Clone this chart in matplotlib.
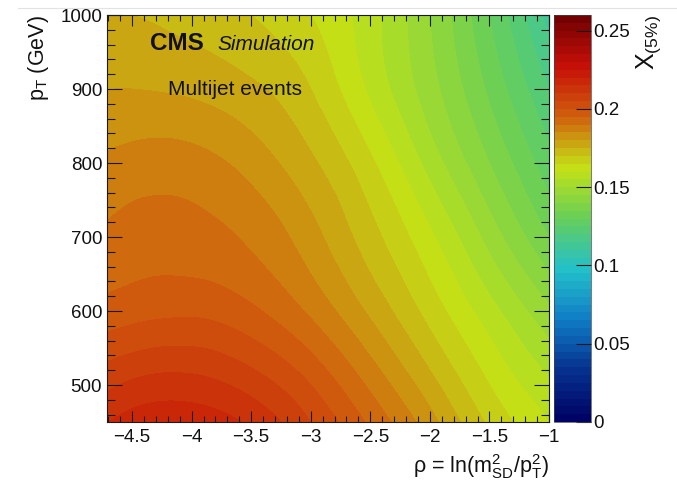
import numpy as np
import matplotlib
matplotlib.use("Agg")
import matplotlib.pyplot as plt
import matplotlib.tri as mtri
from matplotlib.colors import LinearSegmentedColormap
from matplotlib.ticker import MultipleLocator
from matplotlib.lines import Line2D

plt.rcParams["font.family"] = ["Liberation Sans", "DejaVu Sans"]
plt.rcParams["mathtext.fontset"] = "custom"
plt.rcParams["mathtext.rm"] = "Liberation Sans"
plt.rcParams["mathtext.it"] = "Liberation Sans:italic"
plt.rcParams["mathtext.bf"] = "Liberation Sans:bold"
plt.rcParams["mathtext.sf"] = "Liberation Sans"

# grid of the smoothed X(5%) map: rho columns, pT rows
rho = [-4.7, -4.5, -4.0, -3.5, -3.0, -2.5, -2.0, -1.5, -1.0]
pt = [450, 500, 600, 700, 800, 900, 1000]

x5_pt450 = [0.215, 0.217, 0.218, 0.214, 0.205, 0.194, 0.182, 0.169, 0.160]
x5_pt500 = [0.209, 0.211, 0.212, 0.208, 0.200, 0.189, 0.177, 0.165, 0.156]
x5_pt600 = [0.197, 0.198, 0.199, 0.196, 0.189, 0.179, 0.168, 0.157, 0.146]
x5_pt700 = [0.191, 0.192, 0.192, 0.189, 0.182, 0.172, 0.161, 0.148, 0.135]
x5_pt800 = [0.186, 0.187, 0.187, 0.183, 0.176, 0.166, 0.153, 0.140, 0.127]
x5_pt900 = [0.180, 0.180, 0.179, 0.176, 0.170, 0.159, 0.147, 0.134, 0.120]
x5_pt1000 = [0.175, 0.175, 0.173, 0.170, 0.165, 0.157, 0.145, 0.130, 0.113]

x_ticks = [-4.5, -4.0, -3.5, -3.0, -2.5, -2.0, -1.5, -1.0]
x_ticklabels = ["\u22124.5", "\u22124", "\u22123.5", "\u22123", "\u22122.5", "\u22122", "\u22121.5", "\u22121"]
y_ticks = [500, 600, 700, 800, 900, 1000]
z_ticks = [0, 0.05, 0.1, 0.15, 0.2, 0.25]
z_ticklabels = ["0", "0.05", "0.1", "0.15", "0.2", "0.25"]

z = np.array([x5_pt450, x5_pt500, x5_pt600, x5_pt700, x5_pt800, x5_pt900, x5_pt1000])

# ROOT-style rainbow palette
stops = [0.0, 0.125, 0.25, 0.375, 0.5, 0.625, 0.75, 0.875, 1.0]
red = [0, 5, 15, 35, 102, 196, 208, 199, 110]
green = [0, 48, 124, 192, 206, 226, 97, 16, 0]
blue = [99, 142, 198, 201, 90, 22, 13, 8, 2]
cmap = LinearSegmentedColormap.from_list(
    "rainbow_root",
    [(s, (r / 255, g / 255, b / 255)) for s, r, g, b in zip(stops, red, green, blue)],
)

zmin, zmax = 0.0, 0.26
levels = np.linspace(zmin, zmax, 53)

W, H = 677, 482
fig = plt.figure(figsize=(W / 100, H / 100), dpi=100)

def fx(px):
    return px / W

def fy(py):
    return 1 - py / H

left, right, top, bottom = 107, 549, 15, 422
ax = fig.add_axes([fx(left), fy(bottom), fx(right - left), (bottom - top) / H])
cax = fig.add_axes([fx(554), fy(bottom), fx(591 - 554), (bottom - top) / H])

# smooth surface: cubic refinement of the grid, done with pT rescaled so
# both directions have comparable extent, then mapped back to GeV
pt_scale = 150.0
RR, PP = np.meshgrid(rho, pt)
tri_n = mtri.Triangulation(RR.ravel(), PP.ravel() / pt_scale)
interp = mtri.CubicTriInterpolator(tri_n, z.ravel(), kind="min_E")
tri_fine_n, z_fine = mtri.UniformTriRefiner(tri_n).refine_field(
    z.ravel(), triinterpolator=interp, subdiv=4)
tri_fine = mtri.Triangulation(tri_fine_n.x, tri_fine_n.y * pt_scale,
                              tri_fine_n.triangles)

cs = ax.tricontourf(tri_fine, z_fine, levels=levels, cmap=cmap, vmin=zmin, vmax=zmax,
                    antialiased=False)
ax.set_xlim(-4.71, -1.0)
ax.set_ylim(450, 1000)

ax.set_xticks(x_ticks, x_ticklabels)
ax.set_yticks(y_ticks)
ax.xaxis.set_minor_locator(MultipleLocator(0.1))
ax.yaxis.set_minor_locator(MultipleLocator(20))
tick_col = "#1a1a1a"
ax.tick_params(axis="both", which="both", direction="in", top=True, right=True,
               colors=tick_col, labelcolor="#111111", labelsize=13.5)
ax.tick_params(axis="x", which="major", length=8, width=0.8, pad=5)
ax.tick_params(axis="x", which="minor", length=4.3, width=0.8)
ax.tick_params(axis="y", which="major", length=10.8, width=0.8, pad=3.5)
ax.tick_params(axis="y", which="minor", length=5.8, width=0.8)
for sp in ax.spines.values():
    sp.set_linewidth(0.8)
    sp.set_color(tick_col)

cb = fig.colorbar(cs, cax=cax, ticks=z_ticks)
cb.set_ticklabels(z_ticklabels)
cb.outline.set_linewidth(0.5)
cb.outline.set_edgecolor("#444444")
cax.minorticks_off()
cax.tick_params(direction="in", length=10.8, width=0.8, colors=tick_col,
                labelcolor="#111111", labelsize=13.5, pad=1.5)

# axis titles
fig.text(fx(549), fy(473), "\u03c1 = ln(m$^{2}_{\\mathrm{SD}}$/p$^{2}_{\\mathrm{T}}$)",
         ha="right", va="baseline", fontsize=15.5, color="#111111")
fig.text(fx(26), fy(15), "p$_{\\mathrm{T}}$ (GeV)", rotation=90,
         ha="left", va="top", fontsize=15.5, color="#111111")
fig.text(fx(634), fy(15), "X$_{\\mathrm{(5\\%)}}$", rotation=90,
         ha="left", va="top", fontsize=18, color="#111111")

# labels inside the frame
fig.text(fx(150), fy(50), "CMS", fontsize=17.5, fontweight="bold", va="baseline",
         color="#111111")
fig.text(fx(217), fy(50), "Simulation", fontsize=15, fontstyle="italic",
         va="baseline", color="#111111")
fig.text(fx(168), fy(95), "Multijet events", fontsize=15, va="baseline",
         color="#111111")

# faint frame line along the top of the image
fig.add_artist(Line2D([fx(18), 1.0], [fy(8), fy(8)], color="#e2e2e2", lw=0.8))

fig.savefig("out.png", dpi=100)
